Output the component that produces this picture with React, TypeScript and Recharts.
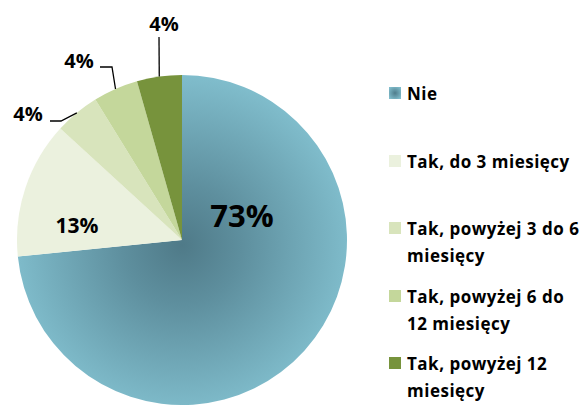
import React from "react";
import { PieChart, Pie, Cell, Legend } from "recharts";

const categories = [
  "Nie",
  "Tak, do 3 miesięcy",
  "Tak, powyżej 3 do 6 miesięcy",
  "Tak, powyżej 6 do 12 miesięcy",
  "Tak, powyżej 12 miesięcy",
];
const values = [73.4, 13.4, 4.4, 4.4, 4.4];
const legendLines = [
  ["Nie"],
  ["Tak, do 3 miesięcy"],
  ["Tak, powyżej 3 do 6", "miesięcy"],
  ["Tak, powyżej 6 do", "12 miesięcy"],
  ["Tak, powyżej 12", "miesięcy"],
];
const colors = ["url(#nieGrad)", "#ebf1de", "#d8e4bc", "#c4d79b", "#77933c"];
const legendColors = ["url(#nieGradSmall)", "#ebf1de", "#d8e4bc", "#c4d79b", "#77933c"];

const data = categories.map((name, i) => ({ name, value: values[i] }));

const FONT = "'Open Sans', sans-serif";
const RAD = Math.PI / 180;

const insideOffsets: Record<number, { dx: number; dy: number; size: number }> = {
  0: { dx: 60, dy: -25, size: 31 },
  1: { dx: -105, dy: -15, size: 21 },
};
const outsideLayout: Record<number, { elbow: [number, number]; end: [number, number]; text: [number, number] }> = {
  2: { elbow: [-121, -119], end: [-132, -119], text: [-154, -127] },
  3: { elbow: [-70, -173], end: [-82, -173], text: [-103, -180] },
  4: { elbow: [-23, -203], end: [-23, -203], text: [-18, -217] },
};

const renderLabel = (props: any) => {
  const { cx, cy, midAngle, outerRadius, index, value } = props;
  const txt = `${Math.round(value)}%`;
  if (insideOffsets[index]) {
    const o = insideOffsets[index];
    return (
      <text
        x={cx + o.dx}
        y={cy + o.dy}
        textAnchor="middle"
        dominantBaseline="central"
        fontFamily={FONT}
        fontWeight={700}
        fontSize={o.size}
        fill="#000"
      >
        {txt}
      </text>
    );
  }
  const L = outsideLayout[index];
  const px = cx + outerRadius * Math.cos(-midAngle * RAD);
  const py = cy + outerRadius * Math.sin(-midAngle * RAD);
  return (
    <g>
      <polyline
        points={`${px},${py} ${cx + L.elbow[0]},${cy + L.elbow[1]} ${cx + L.end[0]},${cy + L.end[1]}`}
        fill="none"
        stroke="#000"
        strokeWidth={1.3}
      />
      <text
        x={cx + L.text[0]}
        y={cy + L.text[1]}
        textAnchor="middle"
        dominantBaseline="central"
        fontFamily={FONT}
        fontWeight={700}
        fontSize={20}
        fill="#000"
      >
        {txt}
      </text>
    </g>
  );
};

const legendTops = [87, 155, 222, 290, 357];

const renderLegend = () => (
  <div style={{ position: "relative", width: 200, height: 405 }}>
    <svg width={200} height={405} style={{ position: "absolute", left: 0, top: 0 }}>
      <defs>
        <radialGradient id="nieGradSmall" cx="0.5" cy="0.5" r="0.6">
          <stop offset="0" stopColor="#4f7c8b" />
          <stop offset="1" stopColor="#80bccb" />
        </radialGradient>
      </defs>
      {categories.map((c, i) => (
        <g key={c}>
          <rect x={0} y={legendTops[i]} width={12} height={12} fill={legendColors[i]} />
          {legendLines[i].map((ln, j) => (
            <text
              key={j}
              x={18}
              y={legendTops[i] + 6 + j * 27}
              dominantBaseline="central"
              fontFamily={FONT}
              fontWeight={700}
              fontSize={17}
              letterSpacing={0.5}
              fill="#000"
            >
              {ln}
            </text>
          ))}
        </g>
      ))}
    </svg>
  </div>
);

export default function App() {
  return (
    <div style={{ position: "absolute", left: 0, top: 0, width: 584, height: 405, background: "#fff" }}>
      <PieChart width={584} height={405} margin={{ top: 0, right: 0, bottom: 0, left: 0 }}>
        <defs>
          <radialGradient id="nieGrad" gradientUnits="userSpaceOnUse" cx={182} cy={245} r={170}>
            <stop offset="0" stopColor="#4f7a88" />
            <stop offset="0.35" stopColor="#5e8f9e" />
            <stop offset="1" stopColor="#80bdcc" />
          </radialGradient>
        </defs>
        <Pie
          data={data}
          dataKey="value"
          nameKey="name"
          cx={182}
          cy={240}
          outerRadius={165}
          startAngle={90}
          endAngle={-270}
          stroke="none"
          label={renderLabel}
          labelLine={false}
          isAnimationActive={false}
        >
          {data.map((d, i) => (
            <Cell key={d.name} fill={colors[i]} />
          ))}
        </Pie>
        <Legend
          content={renderLegend}
          layout="vertical"
          wrapperStyle={{ position: "absolute", left: 389, top: 0, width: 200, height: 405 }}
        />
      </PieChart>
    </div>
  );
}
